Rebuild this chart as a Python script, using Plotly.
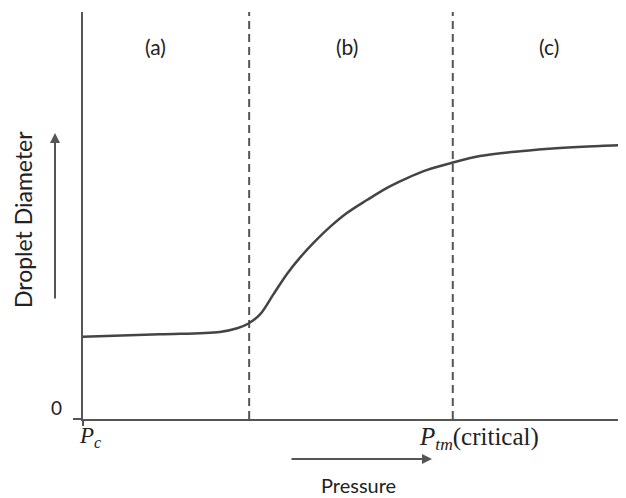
import plotly.graph_objects as go

# Curve (pressure vs droplet diameter)
pressure = [0.0, 1.42, 2.52, 2.84, 3.04, 3.26, 3.50, 3.76, 4.00, 4.24, 4.55, 4.86,
            5.23, 5.60, 5.97, 6.34, 6.78, 7.31, 8.05, 8.78, 9.52, 10.0]
diameter = [2.02, 2.08, 2.14, 2.23, 2.34, 2.57, 3.05, 3.57, 3.97, 4.32, 4.72, 5.06,
            5.38, 5.68, 5.92, 6.12, 6.29, 6.46, 6.58, 6.66, 6.71, 6.73]

# Region boundaries
boundaries = [3.06, 6.81]
region_labels = ["(a)", "(b)", "(c)"]
region_centers = [1.33, 4.87, 8.58]

GREY = "#555555"
TXT = "#222222"
SANS = "Lato, Open Sans, sans-serif"
SERIF = "Liberation Serif, Times New Roman, serif"

fig = go.Figure()

for b in boundaries:
    fig.add_trace(go.Scatter(x=[b, b], y=[0, 10], mode="lines",
                             line=dict(color=GREY, width=2, dash="8px,5px"),
                             hoverinfo="skip", showlegend=False))

fig.add_trace(go.Scatter(x=pressure, y=diameter, mode="lines",
                         line=dict(color="#444444", width=2.5, shape="spline", smoothing=1.0),
                         showlegend=False))

annotations = []
for lab, xc in zip(region_labels, region_centers):
    annotations.append(dict(x=xc, y=(419 - 47) / 407, xref="x", yref="paper",
                            text=lab, showarrow=False, xanchor="center", yanchor="middle",
                            font=dict(family=SANS, size=21, color=TXT)))

# Axis labels
annotations.append(dict(x=0, y=0, xref="x", yref="y", text="0", showarrow=False,
                        xanchor="right", yanchor="bottom", xshift=-19, yshift=-2,
                        font=dict(family=SANS, size=19, color=TXT)))
annotations.append(dict(x=0, y=0, xref="x", yref="y", text="<i>P</i><sub><i>c</i></sub>",
                        showarrow=False, xanchor="center", yanchor="top", xshift=7, yshift=-2,
                        font=dict(family=SERIF, size=23, color=TXT)))
annotations.append(dict(x=boundaries[1], y=0, xref="x", yref="y",
                        text="<i>P</i><sub><i>tm</i></sub>(critical)",
                        showarrow=False, xanchor="left", yanchor="top", xshift=-36, yshift=-2,
                        font=dict(family=SERIF, size=25, color=TXT)))
annotations.append(dict(x=(358 - 83) / 543, y=(419 - 485) / 407, xref="paper", yref="paper",
                        text="Pressure", showarrow=False, xanchor="center", yanchor="middle",
                        font=dict(family=SANS, size=20, color=TXT)))
annotations.append(dict(x=(23 - 83) / 543, y=(419 - 220) / 407, xref="paper", yref="paper",
                        text="Droplet Diameter", showarrow=False, textangle=-90,
                        xanchor="center", yanchor="middle",
                        font=dict(family=SANS, size=23, color=TXT)))

# Arrows
annotations.append(dict(x=(432 - 83) / 543, y=(419 - 459) / 407, xref="paper", yref="paper",
                        ax=-142, ay=0, text="", showarrow=True, arrowhead=2, arrowsize=1,
                        arrowwidth=2, arrowcolor=GREY))
annotations.append(dict(x=(55 - 83) / 543, y=(419 - 133) / 407, xref="paper", yref="paper",
                        ax=0, ay=167, text="", showarrow=True, arrowhead=2, arrowsize=1,
                        arrowwidth=2, arrowcolor=GREY))

fig.update_layout(
    width=618, height=490,
    margin=dict(l=75, r=0, t=4, b=79),
    paper_bgcolor="white", plot_bgcolor="white",
    annotations=annotations,
    xaxis=dict(range=[0, 10], showgrid=False, zeroline=False, showline=True,
               linecolor=GREY, linewidth=2, ticks="outside", tickvals=[0], ticktext=[""],
               ticklen=5, tickcolor=GREY, tickwidth=2),
    yaxis=dict(range=[0, 10], showgrid=False, zeroline=False, showline=True,
               linecolor=GREY, linewidth=2, ticks="outside", tickvals=[0], ticktext=[""],
               ticklen=8, tickcolor=GREY, tickwidth=2),
)

fig.write_html("out.html")
